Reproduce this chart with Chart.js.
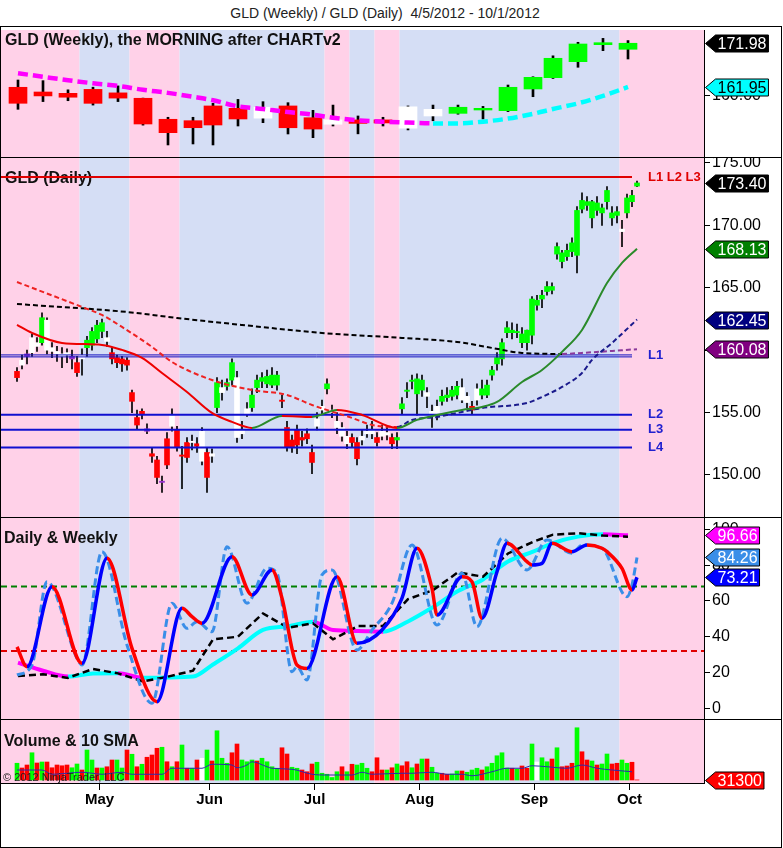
<!DOCTYPE html>
<html>
<head>
<title>GLD (Weekly) / GLD (Daily)</title>
<script src="https://cdn.jsdelivr.net/npm/chart.js"></script>
<style>
  body { margin: 0; background: #fff; font-family: Arial, "Liberation Sans", sans-serif; }
  #wrap { position: relative; width: 783px; height: 848px; overflow: hidden; }
  #title { position: absolute; left: 0; top: 5px; width: 770px; text-align: center; font-size: 14px; line-height: 16px; color: #222; }
  #frame { position: absolute; left: 0; top: 26px; width: 780px; height: 820px; border: 1px solid #000; }
  .sep { position: absolute; left: 0; width: 782px; height: 1px; background: #000; }
  canvas { position: absolute; left: 1px; }
</style>
</head>
<body>
<div id="wrap">
  <div id="title">GLD (Weekly) / GLD (Daily)&nbsp; 4/5/2012 - 10/1/2012</div>
  <div id="frame"></div>
  <canvas id="cw" width="780" height="127" style="top:30px"></canvas>
  <div class="sep" style="top:157px"></div>
  <canvas id="cd" width="780" height="359" style="top:158px"></canvas>
  <div class="sep" style="top:517px"></div>
  <canvas id="co" width="780" height="201" style="top:518px"></canvas>
  <div class="sep" style="top:719px"></div>
  <canvas id="cv" width="780" height="127" style="top:720px"></canvas>
</div>

<script>
// ---- data ----
const holidays = ['2012-04-06', '2012-05-28', '2012-07-04', '2012-09-03'];

// daily bars (4/5 .. 10/2 morning)
const dOpen = [
  158.3,158.8,159.7,159.8,160.6,160.6,162.4,160.2,159.9,159.7,
  159.6,159.5,159.0,159.3,160.2,160.4,160.9,161.5,161.0,159.8,
  159.4,159.3,159.2,156.6,154.6,155.1,153.7,151.7,151.2,149.5,
  152.9,153.9,153.6,151.6,152.6,152.6,152.5,151.1,151.8,151.5,
  155.4,157.0,157.1,157.6,157.8,153.3,154.9,155.4,157.0,157.5,
  157.3,157.2,157.2,156.0,153.8,152.8,153.6,153.0,153.3,151.8,
  153.9,155.2,156.9,155.2,154.3,153.8,153.1,153.0,152.6,152.8,
  153.3,153.6,153.0,153.1,153.4,153.0,153.0,155.3,156.7,157.5,
  156.5,156.8,156.6,155.1,154.9,155.9,156.2,156.3,156.4,157.0,
  156.3,155.5,156.0,156.4,156.4,158.0,158.9,159.3,161.4,161.4,
  161.4,160.6,160.6,161.2,163.6,164.1,164.7,164.8,167.7,167.1,
  167.5,167.9,167.6,171.3,171.6,170.6,171.2,171.0,171.9,170.6,
  170.8,169.7,171.0,171.9,173.15];
const dHigh = [
  158.6,159.6,160.0,161.3,161.0,163.0,162.6,160.6,160.3,160.2,
  160.1,160.0,159.5,160.1,161.1,161.8,162.4,162.5,161.5,160.2,
  159.6,159.5,159.4,156.8,155.2,155.3,154.1,152.2,151.5,149.9,
  153.4,155.3,153.9,152.3,153.0,153.2,153.0,153.8,152.2,152.1,
  157.8,157.6,157.7,159.3,158.3,154.3,155.8,156.9,158.0,158.2,
  158.4,158.6,158.3,156.4,154.3,153.2,154.0,153.5,153.7,152.4,
  155.0,156.0,157.7,155.6,155.0,154.2,153.5,153.3,153.0,153.6,
  154.0,154.3,153.4,154.0,153.9,153.3,153.4,156.2,157.4,158.0,
  158.1,158.0,157.0,155.6,156.0,156.8,157.0,157.1,157.5,157.7,
  156.6,155.9,157.3,157.6,157.6,158.7,159.8,160.9,162.3,162.2,
  162.1,161.8,161.6,164.3,164.4,164.8,165.5,165.4,168.6,168.0,
  168.5,169.0,171.5,172.6,172.3,172.0,172.3,171.7,173.1,171.5,
  171.5,170.4,172.5,172.8,173.55];
const dLow = [
  157.5,158.5,158.9,159.5,159.9,160.4,159.7,159.4,159.1,158.6,
  159.0,158.5,157.9,158.0,159.5,160.0,160.6,161.0,160.3,158.9,
  158.6,158.3,158.4,155.0,153.7,154.5,153.3,151.0,149.3,148.6,
  150.5,153.5,151.9,148.9,151.0,152.0,151.8,150.8,148.6,151.0,
  155.0,156.0,156.8,157.2,152.6,152.9,154.7,155.1,156.6,157.0,
  157.0,157.0,156.8,155.4,151.9,151.8,151.7,152.3,152.5,150.1,
  153.6,154.9,156.5,154.6,153.3,152.7,152.1,152.2,150.8,152.4,
  153.0,152.9,152.3,152.8,152.8,152.1,152.1,154.9,156.2,156.9,
  154.8,156.3,155.4,153.8,154.4,155.6,155.9,156.0,156.1,155.8,
  155.4,154.9,155.6,156.1,156.2,157.6,158.4,158.8,161.0,160.9,
  161.0,160.2,160.0,160.5,163.2,163.4,164.4,164.5,167.3,166.6,
  167.2,167.5,166.2,171.0,171.2,169.8,170.8,170.0,171.3,170.0,
  170.2,168.3,170.6,171.5,173.1];
const dClose = [
  157.8,159.2,159.5,161.0,160.3,162.6,160.0,159.9,159.7,159.5,
  159.8,159.3,158.2,159.6,160.8,161.5,162.0,162.2,160.7,159.3,
  159.0,158.9,158.8,155.9,154.0,154.9,153.5,151.5,149.8,149.4,
  150.8,154.8,152.2,151.5,151.4,152.7,152.3,153.5,149.8,151.7,
  157.4,156.6,157.4,159.0,153.0,153.6,155.3,156.4,157.6,157.8,
  157.9,158.0,158.0,155.9,152.2,152.2,152.4,152.8,152.9,151.0,
  154.5,155.5,157.3,155.0,153.8,153.1,152.5,152.6,151.3,153.1,
  153.5,153.3,152.6,153.5,153.2,152.5,152.8,155.7,156.8,157.6,
  157.7,157.6,156.3,154.7,155.5,156.3,156.4,156.8,157.1,156.0,
  155.8,155.2,156.9,156.9,157.2,158.4,159.4,160.6,161.8,161.6,
  161.5,161.3,161.6,164.1,164.0,164.4,165.1,165.1,168.3,167.8,
  168.0,168.6,171.2,172.0,171.9,171.9,171.8,171.4,172.8,171.0,
  171.1,169.5,172.2,172.4,173.40];
// bar state: u = up, d = down, n = neutral, p = pause
const dState = ('dnpnnunnnn' + 'npdnuuuund' + 'ddddddpddp' + 'dndddndndn' + 'unuunnnuuu' +
  'uuuddddddd' + 'nnunnnnddn' + 'nndnnduuuu' + 'uunnnuuuun' + 'ndnuuuuuuu' +
  'uuuuuuuuuu' + 'uuuuuuuuuu' + 'unuuu').split('');

// volume in millions of shares, last bar is the partial morning
const vol = [
  6.7,4.8,6.0,10.9,6.8,7.2,7.2,4.9,6.0,5.7,
  6.0,4.9,6.4,4.0,12.0,8.0,4.8,4.8,5.3,8.0,
  8.0,4.8,12.0,10.3,5.3,6.3,9.1,10.0,12.7,13.1,
  7.3,5.3,7.3,14.0,4.7,4.7,8.0,8.7,12.0,7.6,
  19.7,8.7,6.7,10.9,14.4,8.0,7.3,8.0,7.6,8.7,
  7.3,5.3,4.7,12.9,10.4,5.1,4.7,4.0,3.3,6.4,
  7.1,2.7,2.3,1.0,3.3,5.3,3.3,6.3,6.0,6.7,
  4.7,3.3,8.9,4.0,4.0,4.9,6.4,5.7,7.3,4.9,
  6.4,8.4,8.4,5.1,2.7,2.7,2.3,2.4,3.6,3.6,
  3.1,4.0,4.7,4.0,5.3,6.7,9.7,10.9,4.8,4.7,
  4.3,5.6,4.7,14.4,7.2,8.9,7.3,8.4,12.9,5.3,
  5.6,6.7,20.9,11.3,8.0,7.6,6.0,6.4,10.4,6.4,
  6.7,8.0,6.7,7.1,0.0313];
const volState = ('uddududddd' + 'duuduududd' + 'uudududddu' + 'dudududnud' + 'uuudduuudu' +
  'uuudduuddd' + 'uuuuududuu' + 'udddududdu' + 'duduudduud' + 'uuuduuuuud' +
  'uddunuudud' + 'ddudduduud' + 'duudd').split('');
const volSma = [[0,4.0],[5,4.0],[7,2.3],[13,3.1],[17,2.3],[21,3.1],[23,2.3],[29,2.3],[31,4.7],[37,4.7],
  [39,6.3],[43,6.0],[44,4.9],[46,6.0],[47,7.3],[50,5.3],[51,4.7],[55,4.3],[59,2.3],[62,2.0],[67,2.0],
  [69,3.1],[71,2.3],[77,2.7],[79,2.7],[83,3.1],[86,2.3],[89,2.3],[91,1.7],[95,3.3],[98,4.7],[101,4.7],
  [103,5.7],[106,5.3],[110,4.7],[113,6.0],[116,4.7],[119,4.0],[123,3.3]];

// daily moving averages, read as [bar, value]
const ma20 = [[0,162.02],[3,161.38],[9,160.58],[17,160.42],[21,160.02],[25,159.38],[29,158.17],[34,156.65],
  [39,154.97],[43,154.25],[47,153.77],[53,154.73],[59,154.65],[64,155.21],[69,154.81],[76,153.77],[80,154.41],
  [84,154.81],[89,155.21],[93,155.45],[96,155.85],[101,157.45],[105,158.41],[109,159.86],[113,161.62],
  [118,165.38],[121,166.99],[124,168.13]];
const ma50 = [[0,165.46],[13,163.46],[17,162.82],[21,161.86],[27,160.26],[31,159.05],[39,157.61],[47,156.81],
  [54,156.41],[59,155.61],[67,154.57],[71,154.01],[76,153.85],[79,154.41],[84,154.65],[89,155.05],[93,155.37],
  [102,155.77],[105,156.25],[109,157.05],[113,158.17],[115,159.22],[119,160.58],[124,162.45]];
const ma200 = [[0,163.70],[22,163.06],[32,162.58],[45,162.02],[61,161.38],[77,160.98],[88,160.66],[95,160.18],
  [101,159.78],[109,159.70],[113,159.78],[124,160.08]];

const topLevel = 173.88;
const levelNames = ['L1', 'L2', 'L3', 'L4'];
const levelValues = [159.54, 154.83, 153.63, 152.19];

// weekly bars
const weekDates = ['2012-04-09','2012-04-16','2012-04-23','2012-04-30','2012-05-07','2012-05-14','2012-05-21',
  '2012-05-29','2012-06-04','2012-06-11','2012-06-18','2012-06-25','2012-07-02','2012-07-09','2012-07-16',
  '2012-07-23','2012-07-30','2012-08-06','2012-08-13','2012-08-20','2012-08-27','2012-09-04','2012-09-10',
  '2012-09-17','2012-09-24','2012-10-01'];
const wOpen = [161.88,160.8,160.5,161.4,160.6,159.36,154.54,154.22,157.6,157.06,157.3,157.6,154.9,154.4,154.4,
  154.4,152.5,155.3,155.9,156.67,156.51,161.49,164.08,167.75,171.65,170.6];
const wHigh = [163.55,163.4,161.3,161.9,162.2,159.4,155.0,155.0,158.2,159.1,158.58,158.35,156.6,157.8,155.3,
  155.0,157.6,157.8,157.8,157.5,162.4,164.3,169.1,172.2,173.1,172.6];
const wLow = [156.83,158.6,158.8,157.8,158.6,153.2,148.65,148.88,148.65,153.0,153.76,151.17,150.32,153.0,151.2,
  153.0,152.1,154.2,155.7,154.6,156.3,159.72,163.9,166.47,170.28,168.37];
const wClose = [158.21,159.9,159.6,158.2,159.4,153.46,151.47,152.61,153.23,154.61,154.8,152.6,152.3,153.4,153.6,
  153.7,157.4,156.83,157.3,157.06,161.88,164.17,168.53,171.81,172.11,171.98];
const wState = ('dddddddddd' + 'nddndd' + 'nn' + 'uuuuuuuu').split('');
const wMa = [165.1,164.3,163.5,162.8,162.2,161.3,160.6,159.7,158.9,157.5,156.9,156.2,155.6,154.9,154.3,154.0,
  153.8,153.6,153.6,154.0,154.7,155.8,156.9,158.2,159.9,161.95];

// oscillators
const oscWeekly = [25.5,21,17.7,19.5,19.6,17,17.2,17.7,24.5,33.5,43.8,45.8,48.4,43.7,43.2,42.8,48.5,56.5,65.5,
  72,82,87.5,92.3,95.9,97.2,96.66];
const oscWeeklySlow = [18,19,17,22,19.5,15,17.7,21,38.5,40,53,45,47.5,38.5,46,46,61,66,76,73.5,86.5,93,97,
  97.8,96.5,95.9];
const oscDaily = [[0,34.3],[2,23.2],[7,67.9],[13,25.1],[18,83.8],[23,33.5],[28,3.7],[33,55.9],[35,51.2],[37,47.5],
  [43,84.7],[47,63.3],[51,77.3],[53,61.5],[56,24.2],[58,22.3],[64,73.5],[68,36.3],[73,43.7],[77,61.5],[80,89.4],
  [83,67],[84,52.1],[89,73.5],[91,70.7],[93,50.3],[96,76.3],[98,92.2],[102,81.9],[103,80.1],[105,81],[107,92.2],
  [111,87.5],[114,91.2],[117,89.4],[118,87.5],[121,78.2],[123,66.1],[124,73.21]];
const oscDailyFast = [[0,18.6],[3,24.2],[6,70.7],[12,27.9],[13,24.2],[17,87.5],[22,35.4],[27,2.8],[31,58.7],
  [34,44.7],[36,48.4],[39,42.8],[42,90.3],[46,58.7],[50,78.2],[52,75.4],[55,20.4],[56,23.2],[58,15.8],[61,74.5],
  [63,77.3],[68,32.6],[71,43.7],[75,58.7],[79,91.2],[84,46.5],[89,75.4],[92,45.6],[97,95.0],[102,77.3],[106,94.0],
  [111,86.6],[113,91.2],[117,89.4],[122,62.3],[123,69],[124,84.26]];
const oscHigh = 68, oscLow = 32;

// background regime bands
const regimeDates = ['2012-04-05','2012-04-25','2012-05-09','2012-05-23','2012-07-05','2012-07-12',
  '2012-07-19','2012-07-26','2012-09-27'];
const regimeState = ['down','up','down','up','down','up','down','up','down'];

// tick labels
const weeklyTicks = [160];
const dailyTicks = [150, 155, 160, 165, 170, 175];
const oscTicks = [0, 20, 40, 60, 80, 100];
const volTicks = [];
const monthLabels = ['May', 'Jun', 'Jul', 'Aug', 'Sep', 'Oct'];

// ---- trading calendar ----
const days = [];
for (let d = new Date(Date.UTC(2012, 3, 5)); d <= new Date(Date.UTC(2012, 9, 2)); d.setUTCDate(d.getUTCDate() + 1)) {
  const s = d.toISOString().slice(0, 10);
  const wd = d.getUTCDay();
  if (wd === 0 || wd === 6 || holidays.includes(s)) continue;
  days.push(s);
}
const dayIdx = s => days.indexOf(s);
const dayX = days.map((d, k) => k);
const weekX = weekDates.map(s => dayIdx(s) - 0.8);
const regimeIdx = regimeDates.map(dayIdx);
const monthIdx = [];
for (let k = 1; k < days.length; k++) if (days[k].slice(5, 7) !== days[k - 1].slice(5, 7)) monthIdx.push(k);
const levelEnd = dayIdx('2012-10-01');

// ---- look ----
const X_MIN = -3.2, X_MAX = 137.4, AXIS_W = 77;
const FONT = 'Arial, "Liberation Sans", sans-serif';
Chart.defaults.font.family = FONT;
Chart.defaults.color = '#000';
const stateColor = { u: '#00ff00', d: '#ff0000', n: '#ffffff', p: '#9932cc' };
const bandColor = { down: '#ffd1e8', up: '#d5def5' };

const bands = {
  id: 'bands',
  beforeDatasetsDraw(chart) {
    const { ctx, chartArea: a, scales: { x } } = chart;
    ctx.save();
    for (let k = 0; k < regimeIdx.length; k++) {
      const x0 = k === 0 ? a.left : x.getPixelForValue(regimeIdx[k] - 0.5);
      const x1 = k === regimeIdx.length - 1 ? a.right : x.getPixelForValue(regimeIdx[k + 1] - 0.5);
      ctx.fillStyle = bandColor[regimeState[k]];
      ctx.fillRect(x0, a.top, x1 - x0, a.bottom - a.top);
    }
    ctx.restore();
  }
};

function textLayer(items) {
  const draw = (chart, top) => {
    const { ctx, scales } = chart;
    items.filter(t => !!t.top === top).forEach(t => {
      ctx.save();
      ctx.font = t.font;
      ctx.fillStyle = t.color;
      ctx.textAlign = 'left';
      ctx.textBaseline = t.value != null ? 'middle' : 'alphabetic';
      const y = t.value != null ? scales.y.getPixelForValue(t.value) : t.y;
      ctx.fillText(t.text, t.x, y);
      ctx.restore();
    });
  };
  return { id: 'textLayer', beforeDatasetsDraw: c => draw(c, false), afterDatasetsDraw: c => draw(c, true) };
}

function tagLayer(list) {
  return {
    id: 'tagLayer',
    afterDraw(chart) {
      const { ctx, chartArea: a, scales: { y } } = chart;
      ctx.save();
      ctx.font = '16px ' + FONT;
      ctx.textBaseline = 'middle';
      ctx.textAlign = 'left';
      ctx.lineWidth = 1;
      list.forEach(t => {
        const py = Math.round(y.getPixelForValue(t.value)) + 0.5;
        const w = ctx.measureText(t.text).width;
        const x0 = a.right + 1.5, x1 = x0 + 10, x2 = x1 + w + 4, hh = 8.5;
        ctx.beginPath();
        ctx.moveTo(x0, py); ctx.lineTo(x1, py - hh); ctx.lineTo(x2, py - hh);
        ctx.lineTo(x2, py + hh); ctx.lineTo(x1, py + hh); ctx.closePath();
        ctx.fillStyle = t.bg; ctx.fill();
        ctx.strokeStyle = '#000'; ctx.stroke();
        ctx.fillStyle = t.fg;
        ctx.fillText(t.text, x1 + 2, py + 1);
      });
      ctx.restore();
    }
  };
}

const hiddenX = { type: 'linear', min: X_MIN, max: X_MAX, display: false, offset: false, grid: { offset: false } };

function yScale(min, max, ticks, fmt) {
  return {
    type: 'linear', position: 'right', min, max, beginAtZero: false,
    afterBuildTicks: s => { s.ticks = ticks.map(v => ({ value: v })); },
    afterFit: s => { s.width = AXIS_W; s.paddingTop = 0; s.paddingBottom = 0; },
    ticks: { callback: fmt, font: { size: 16 }, color: '#000', padding: 2, autoSkip: false },
    grid: { drawOnChartArea: false, drawTicks: true, tickLength: 6, color: '#000' },
    border: { display: true, color: '#000' }
  };
}

function options(y, x) {
  return {
    responsive: false, animation: false, events: [],
    layout: { padding: 0 },
    plugins: { legend: { display: false }, tooltip: { enabled: false } },
    scales: { x: x || hiddenX, y }
  };
}

const bySlope = (up, down) => ({ borderColor: c => c.p1.parsed.y >= c.p0.parsed.y ? up : down });

function line(points, o) {
  return Object.assign({
    type: 'line', data: points.map(p => ({ x: p[0], y: p[1] })),
    pointRadius: 0, borderWidth: 2, fill: false, tension: 0
  }, o);
}

function candles(xs, o, h, l, c, st, bodyW, wickW) {
  return [
    { type: 'bar', data: xs.map((x, k) => ({ x, y: [l[k], h[k]] })), backgroundColor: '#000',
      barThickness: wickW, grouped: false, order: 10 },
    { type: 'bar', data: xs.map((x, k) => ({ x, y: [o[k], c[k]] })),
      backgroundColor: xs.map((x, k) => stateColor[st[k]]),
      barThickness: bodyW, minBarLength: 1, grouped: false, order: 9 }
  ];
}

const panelFont = 'bold 16px ' + FONT;
const last = a => a[a.length - 1];
const smooth = { cubicInterpolationMode: 'monotone' };

// ---- weekly panel ----
new Chart(document.getElementById('cw'), {
  type: 'bar',
  data: { datasets: [
    ...candles(weekX, wOpen, wHigh, wLow, wClose, wState, 18, 2),
    line(weekX.map((x, k) => [x, wMa[k]]), Object.assign({ borderWidth: 4.5, borderDash: [10, 5],
      borderColor: '#ff00ff', segment: bySlope('#00ffff', '#ff00ff'), order: 1 }, smooth))
  ] },
  options: options(yScale(145.89, 175.02, weeklyTicks, v => v.toFixed(2))),
  plugins: [bands,
    textLayer([{ text: 'GLD (Weekly), the MORNING after CHARTv2', x: 4, y: 15, font: panelFont, color: '#111' }]),
    tagLayer([
      { value: last(wClose), text: last(wClose).toFixed(2), bg: '#000', fg: '#fff' },
      { value: last(wMa), text: last(wMa).toFixed(2), bg: '#00ffff', fg: '#000' }
    ])]
});

// ---- daily panel ----
const levelSets = [
  line([[X_MIN, topLevel], [levelEnd, topLevel]], { borderColor: '#e00000', borderWidth: 2, order: 6 }),
  line([[X_MIN, levelValues[0] - 0.08], [levelEnd, levelValues[0] - 0.08]], { borderColor: '#1010c0', borderWidth: 1, order: 6 }),
  line([[X_MIN, levelValues[0] + 0.08], [levelEnd, levelValues[0] + 0.08]], { borderColor: '#1010c0', borderWidth: 1, order: 6 })
];
levelValues.slice(1).forEach(v => levelSets.push(
  line([[X_MIN, v], [levelEnd, v]], { borderColor: '#1010d0', borderWidth: 2, order: 6 })));

const levelFont = 'bold 13px ' + FONT;
new Chart(document.getElementById('cd'), {
  type: 'bar',
  data: { datasets: [
    ...candles(dayX, dOpen, dHigh, dLow, dClose, dState, 5, 1),
    ...levelSets,
    line(ma200, Object.assign({ borderColor: '#000', borderDash: [5, 3], segment: bySlope('#8b3a9b', '#000'), order: 5 }, smooth)),
    line(ma50, Object.assign({ borderColor: '#ee2222', borderDash: [5, 3], segment: bySlope('#1a1a8c', '#ee2222'), order: 4 }, smooth)),
    line(ma20, Object.assign({ borderColor: '#ee0000', segment: bySlope('#2a8a2a', '#ee0000'), order: 3 }, smooth))
  ] },
  options: options(yScale(146.63, 175.40, dailyTicks, v => v.toFixed(2))),
  plugins: [bands,
    textLayer([
      { text: 'GLD (Daily)', x: 4, y: 25, font: panelFont, color: '#111' },
      { text: 'L1 L2 L3', x: 647, value: topLevel, font: levelFont, color: '#e00000', top: true },
      ...levelNames.map((n, k) => ({ text: n, x: 647, value: levelValues[k], font: levelFont, color: '#2020d0', top: true }))
    ]),
    tagLayer([
      { value: last(dClose), text: last(dClose).toFixed(2), bg: '#000', fg: '#fff' },
      { value: last(ma20)[1], text: last(ma20)[1].toFixed(2), bg: '#008000', fg: '#fff' },
      { value: last(ma50)[1], text: last(ma50)[1].toFixed(2), bg: '#000080', fg: '#fff' },
      { value: last(ma200)[1], text: last(ma200)[1].toFixed(2), bg: '#800080', fg: '#fff' }
    ])]
});

// ---- oscillator panel ----
new Chart(document.getElementById('co'), {
  type: 'bar',
  data: { datasets: [
    line([[X_MIN, oscHigh], [X_MAX, oscHigh]], { borderColor: '#008000', borderDash: [6, 4], order: 9 }),
    line([[X_MIN, oscLow], [X_MAX, oscLow]], { borderColor: '#e00000', borderDash: [6, 4], order: 9 }),
    line(weekX.map((x, k) => [x, oscWeekly[k]]), Object.assign({ borderWidth: 4, borderColor: '#00ffff',
      segment: bySlope('#00ffff', '#ff00ff'), order: 8 }, smooth)),
    line(weekX.map((x, k) => [x, oscWeeklySlow[k]]), { borderWidth: 2.5, borderColor: '#000',
      borderDash: [7, 4], order: 7 }),
    line(oscDailyFast, Object.assign({ borderWidth: 3, borderColor: '#3a8ee8', borderDash: [8, 4], order: 6 }, smooth)),
    line(oscDaily, Object.assign({ borderWidth: 3.5, borderColor: '#0000ff', segment: bySlope('#0000ff', '#ff0000'), order: 5 }, smooth))
  ] },
  options: options(yScale(-5.98, 106.31, oscTicks, v => String(v))),
  plugins: [bands,
    textLayer([{ text: 'Daily & Weekly', x: 3, y: 25, font: panelFont, color: '#111' }]),
    tagLayer([
      { value: last(oscWeekly), text: last(oscWeekly).toFixed(2), bg: '#ff00ff', fg: '#fff' },
      { value: last(oscDailyFast)[1], text: last(oscDailyFast)[1].toFixed(2), bg: '#3a8ee8', fg: '#fff' },
      { value: last(oscDaily)[1], text: last(oscDaily)[1].toFixed(2), bg: '#0000ff', fg: '#fff' }
    ])]
});

// ---- volume panel ----
const volColor = { u: '#00ff00', d: '#ff0000', n: '#ffffff' };
new Chart(document.getElementById('cv'), {
  type: 'bar',
  data: { datasets: [
    { type: 'bar', data: dayX.map(k => ({ x: k, y: vol[k] })), backgroundColor: dayX.map(k => volColor[volState[k]]),
      barThickness: 4, grouped: false, base: 0, order: 5 },
    line(volSma, Object.assign({ borderWidth: 1, borderColor: '#2b2bb0', order: 1 }, smooth))
  ] },
  options: options(yScale(-1.2, 24.0, volTicks, v => String(v)), {
    type: 'linear', min: X_MIN, max: X_MAX, position: 'bottom', offset: false,
    afterBuildTicks: s => { s.ticks = monthIdx.map(i => ({ value: i - 0.5 })); },
    afterFit: s => { s.height = 64; s.paddingLeft = 0; s.paddingRight = 0; },
    ticks: { autoSkip: false, maxRotation: 0, padding: 1, font: { size: 15, weight: 'bold' }, color: '#000',
      callback: (v, k) => monthLabels[k] },
    grid: { offset: false, drawOnChartArea: false, tickLength: 7, color: '#000' },
    border: { display: true, color: '#000' }
  }),
  plugins: [bands,
    textLayer([
      { text: 'Volume & 10 SMA', x: 3, y: 25.5, font: panelFont, color: '#111' },
      { text: '\u00a9 2012 NinjaTrader, LLC', x: 2, y: 61, font: '11px ' + FONT, color: '#222', top: true }
    ]),
    tagLayer([{ value: last(vol), text: String(Math.round(last(vol) * 1e6)), bg: '#ff0000', fg: '#fff' }])]
});
</script>
</body>
</html>
